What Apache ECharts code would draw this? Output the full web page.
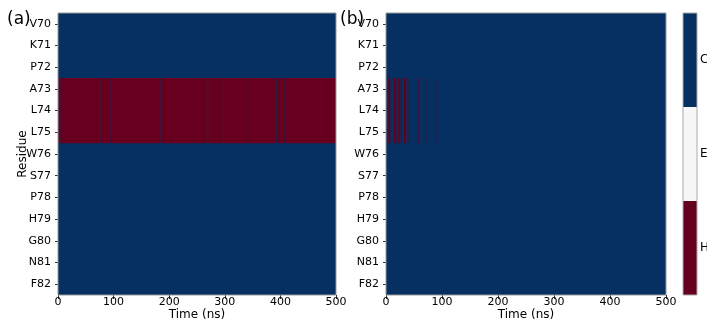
<!DOCTYPE html>
<html>
<head>
<meta charset="utf-8">
<script src="https://cdn.jsdelivr.net/npm/echarts@6/dist/echarts.min.js"></script>
<style>html,body{margin:0;padding:0;background:#fff;}#c{width:707px;height:322px;}</style>
</head>
<body>
<div id="c"></div>
<script>
// ---- data ----
const residues = ['V70','K71','P72','A73','L74','L75','W76','S77','P78','H79','G80','N81','F82'];
const stateNames = ['C','E','H'];
const timeMin = 0, timeMax = 500;
// helix segments [start ns, end ns] for residues A73..L75 (rows 3..5); everything else is coil
const helixRows = [3, 5];
const leftHelix = [[0,4.8],[5.8,75],[76,94.8],[95.8,183.2],[184.2,250.5],[251.5,267.8],[268.8,272.6],[273.6,296.6],[297.6,337.4],[338.4,392.6],[393.6,407.6],[408.6,473.6],[474.6,500]];
const rightHelix = [[4.1,7.7],[14.3,18.4],[21.9,24.4],[26.2,28.5],[32.1,36.2],[40.6,41.4],[57.0,58.2],[70.7,71.9],[88.5,89.7]];

const colors = {C:'#053061', E:'#f7f7f7', H:'#67001f'};

function buildSegments(helix){
  const out = [[timeMin, timeMax, 0, residues.length-1, 'C']];
  helix.forEach(h => out.push([h[0], h[1], helixRows[0], helixRows[1], 'H']));
  return out.map(d => [d[0], d[1], d[2], d[3], stateNames.indexOf(d[4])]);
}
const cbData = stateNames.map((s,i)=>[0,1,i,i,i]);

function renderItem(params, api){
  const s = api.value(0), e = api.value(1), r0 = api.value(2), r1 = api.value(3);
  const st = stateNames[api.value(4)];
  const p0 = api.coord([s, r0]);
  const p1 = api.coord([e, r1]);
  const h = api.size([0,1])[1];
  const y0 = Math.min(p0[1], p1[1]) - h/2;
  const y1 = Math.max(p0[1], p1[1]) + h/2;
  return {type:'rect', shape:{x:p0[0], y:y0, width:p1[0]-p0[0], height:y1-y0}, style:{fill:colors[st]}};
}

const font = 'DejaVu Sans';
function xAx(gi){
  return {gridIndex:gi, type:'value', min:timeMin, max:timeMax, interval:100,
    name:'Time (ns)', nameLocation:'middle', nameGap:14, nameMoveOverlap:false,
    nameTextStyle:{fontSize:12, color:'#000', fontFamily:font},
    axisLine:{show:false}, splitLine:{show:false},
    axisTick:{show:true, length:4, lineStyle:{color:'#333'}},
    axisLabel:{fontSize:11, color:'#000', margin:2, fontFamily:font}};
}
function yAx(gi, withName){
  return {gridIndex:gi, type:'category', data:residues, inverse:true, offset:5,
    name: withName ? 'Residue' : '', nameLocation:'middle', nameGap:24, nameMoveOverlap:false,
    nameTextStyle:{fontSize:12, color:'#000', fontFamily:font},
    axisLine:{show:false}, splitLine:{show:false},
    axisTick:{show:true, length:3, alignWithLabel:true, lineStyle:{color:'#333'}},
    axisLabel:{fontSize:11, color:'#000', margin:2, fontFamily:font}};
}
const gridBase = {show:true, backgroundColor:'transparent', z:10, outerBoundsMode:'none', containLabel:false};

const chart = echarts.init(document.getElementById('c'), null, {renderer:'canvas'});
chart.setOption({
  animation:false,
  textStyle:{fontFamily:font},
  grid:[
    Object.assign({left:58, top:13, width:278, height:282, borderColor:'#999', borderWidth:1}, gridBase),
    Object.assign({left:386, top:13, width:280, height:282, borderColor:'#999', borderWidth:1}, gridBase),
    Object.assign({left:683, top:13, width:14, height:282, borderColor:'#aaa', borderWidth:1}, gridBase)
  ],
  xAxis:[xAx(0), xAx(1),
    {gridIndex:2, type:'value', min:0, max:1, show:false}],
  yAxis:[yAx(0,true), yAx(1,false),
    {gridIndex:2, type:'category', data:stateNames, inverse:true, position:'right',
     axisLine:{show:false}, splitLine:{show:false},
     axisTick:{show:true, length:3, alignWithLabel:true, lineStyle:{color:'#333'}},
     axisLabel:{fontSize:12, color:'#000', margin:3, fontFamily:font}}],
  series:[
    {type:'custom', xAxisIndex:0, yAxisIndex:0, renderItem, data:buildSegments(leftHelix), encode:{x:[0,1], y:[2,3]}, clip:true},
    {type:'custom', xAxisIndex:1, yAxisIndex:1, renderItem, data:buildSegments(rightHelix), encode:{x:[0,1], y:[2,3]}, clip:true},
    {type:'custom', xAxisIndex:2, yAxisIndex:2, renderItem, data:cbData, encode:{x:[0,1], y:[2,3]}, clip:true}
  ],
  graphic:[
    {type:'text', left:7, top:11, style:{text:'(a)', fontSize:17, fill:'#000', fontFamily:font}},
    {type:'text', left:340, top:11, style:{text:'(b)', fontSize:17, fill:'#000', fontFamily:font}}
  ]
});
</script>
</body>
</html>
